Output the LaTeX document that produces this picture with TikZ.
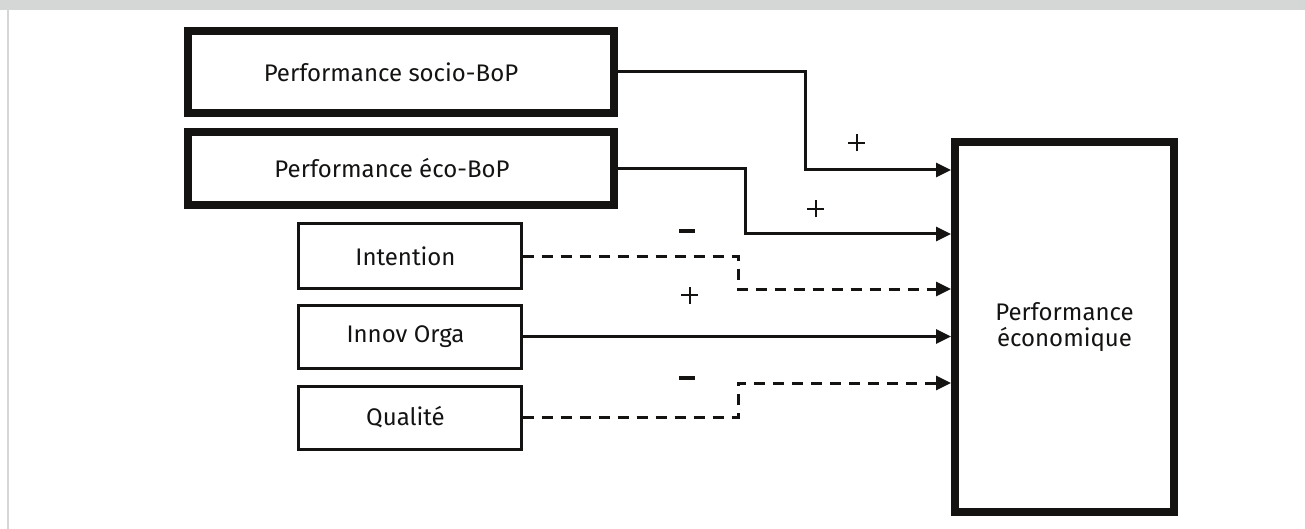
\documentclass[tikz,border=0pt]{standalone}
\usepackage{fontspec}
\setmainfont{Fira Sans}
\usetikzlibrary{arrows.meta}
\definecolor{framegray}{HTML}{D5D7D6}
\definecolor{ink}{HTML}{141311}
% thin plus and heavy minus built from rules
\newcommand{\plussign}{\rule[7.5pt]{17pt}{2pt}\hspace{-9.5pt}\rule{2pt}{17pt}\hspace{7.5pt}}
\newcommand{\minussign}{\rule{16pt}{3.2pt}}
\begin{document}
\begin{tikzpicture}[x=1pt,y=-1pt,
  every node/.style={font=\fontsize{24}{26.5}\selectfont, text=ink},
  heavybox/.style={draw=ink, line width=8pt, rectangle, inner sep=0pt},
  lightbox/.style={draw=ink, line width=3pt, rectangle, inner sep=0pt, minimum width=223pt},
  link/.style={draw=ink, line width=3pt, -{Triangle[length=15pt,width=14pt]}},
  dashlink/.style={link, dash pattern=on 11pt off 8pt},
  sign/.style={inner sep=0pt}]
  \useasboundingbox (0,0) rectangle (1305,529);
  % page frame
  \fill[framegray] (0,0) rectangle (1305,10);
  \fill[framegray] (7,0) rectangle (9,529);

  % source boxes
  \node[heavybox, minimum width=426pt, minimum height=82pt] (soc) at (401,72)
    {\hspace*{-20pt}Performance socio-BoP};
  \node[heavybox, minimum width=426pt, minimum height=73pt] (eco) at (401,168.5)
    {\hspace*{-18pt}Performance éco-BoP};
  \node[lightbox, minimum height=64pt] (int) at (409.5,256) {\hspace*{-8pt}Intention};
  \node[lightbox, minimum height=63pt] (inn) at (409.5,336.5) {\hspace*{-8pt}Innov Orga};
  \node[lightbox, minimum height=63pt] (qua) at (409.5,417.5) {\hspace*{-8pt}Qualité};

  % target box
  \node[heavybox, minimum width=219pt, minimum height=370pt, align=center] (perf) at (1064.5,327)
    {Performance\\économique};

  % connectors
  \draw[link] (soc.east) -| (805,170) -- (perf.west |- 0,170);
  \draw[link] (eco.east) -| (745,234) -- (perf.west |- 0,234);
  \draw[dashlink] (int.east) -| (738,289) -- (perf.west |- 0,289);
  \draw[link] (inn.east) -- (perf.west |- inn.east);
  \draw[dashlink] (qua.east) -| (738,383) -- (perf.west |- 0,383);

  % signs
  \node[sign] (s1) at (853,143) {\plussign};
  \node[sign] (s2) at (812,209) {\plussign};
  \node[sign] (s3) at (687,231) {\minussign};
  \node[sign] (s4) at (686,295) {\plussign};
  \node[sign] (s5) at (687,378) {\minussign};
\end{tikzpicture}
\end{document}
